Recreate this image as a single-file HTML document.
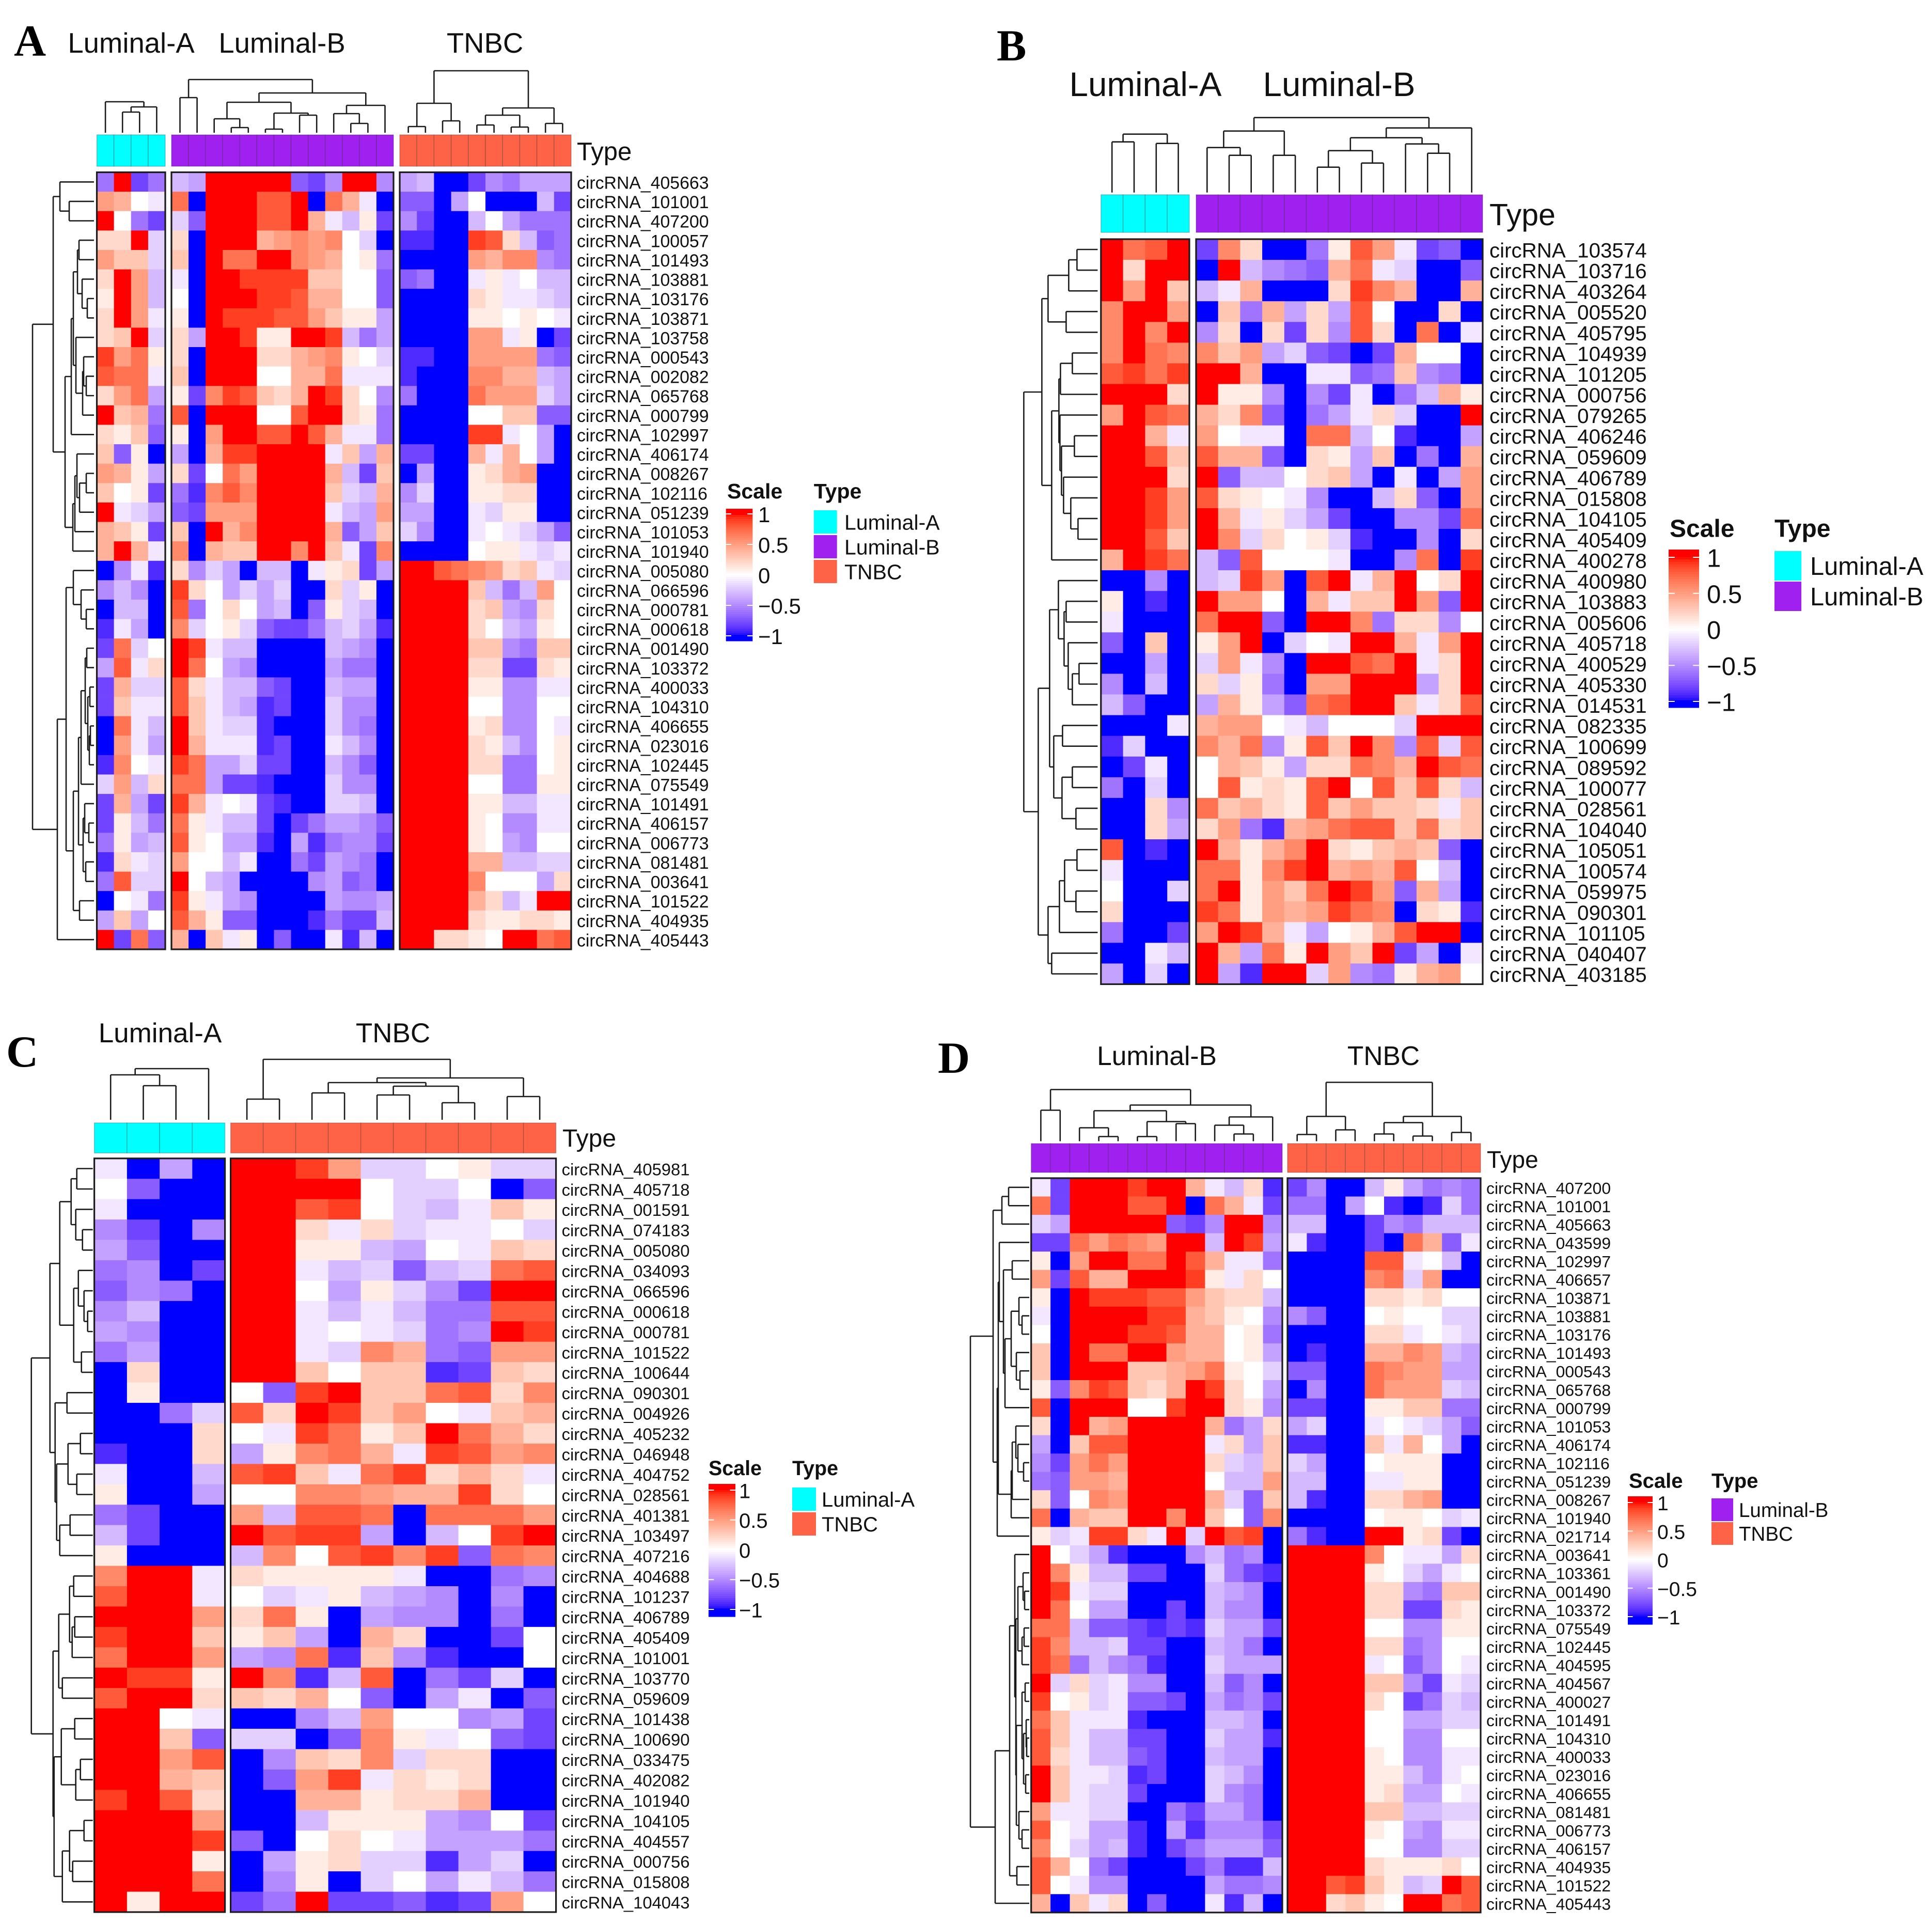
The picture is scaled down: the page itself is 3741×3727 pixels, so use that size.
<!DOCTYPE html>
<html lang="en">
<head>
<meta charset="utf-8">
<title>circRNA expression heatmaps</title>
<style>
html,body{margin:0;padding:0;background:#fff;}
svg{display:block;}
text{font-family:"Liberation Sans",Arial,sans-serif;fill:#111;}
.letter{font-family:"Liberation Serif","Times New Roman",serif;font-weight:bold;fill:#000;}
</style>
</head>
<body>
<svg id="figure" xmlns="http://www.w3.org/2000/svg" width="3741" height="3727" viewBox="0 0 3741 3727">
<rect width="3741" height="3727" fill="#fff"/>
<text class="letter" x="27" y="108" font-size="86">A</text>
<text class="letter" x="1930" y="117" font-size="86">B</text>
<text class="letter" x="12" y="2065" font-size="86">C</text>
<text class="letter" x="1816" y="2077" font-size="86">D</text>
</svg>
<script>
// ---------- legend data ----------
const scaleTickValues = [1, 0.5, 0, -0.5, -1];
const scaleTickLabels = ["1", "0.5", "0", "\u22120.5", "\u22121"];
const typeColors = {"Luminal-A":"#00FFFF","Luminal-B":"#A020F0","TNBC":"#FF6347"};

// ---------- Panel A data (values in tenths of scale, -10..10) ----------
const panelAGroups = ["Luminal-A","Luminal-B","TNBC"];
const panelAColumnCounts = [4,13,10];
const panelALabels = ["circRNA_405663","circRNA_101001","circRNA_407200","circRNA_100057","circRNA_101493","circRNA_103881","circRNA_103176","circRNA_103871","circRNA_103758","circRNA_000543","circRNA_002082","circRNA_065768","circRNA_000799","circRNA_102997","circRNA_406174","circRNA_008267","circRNA_102116","circRNA_051239","circRNA_101053","circRNA_101940","circRNA_005080","circRNA_066596","circRNA_000781","circRNA_000618","circRNA_001490","circRNA_103372","circRNA_400033","circRNA_104310","circRNA_406655","circRNA_023016","circRNA_102445","circRNA_075549","circRNA_101491","circRNA_406157","circRNA_006773","circRNA_081481","circRNA_003641","circRNA_101522","circRNA_404935","circRNA_405443"];
const panelAValues = [
[-6,10,-8,-6, -3,-4,10,10,10,10,10,-7,-8,-5,10,10,-5, -4,-3,-10,-10,-8,-5,-6,-4,-4,-4],
[5,4,0,-1, 7,-10,10,10,10,8,8,10,-10,7,4,-1,-10, -7,-7,-10,-4,0,-10,-10,-10,-3,-8],
[10,0,-6,-8, -2,-7,10,10,10,8,8,10,4,-1,-3,1,-8, -5,-8,-10,-10,-3,0,-4,-6,-6,-6],
[2,2,10,-2, 2,-10,10,10,10,4,5,6,5,6,0,-2,-10, -9,-9,-10,-10,9,8,2,-3,-7,-6],
[5,3,3,-2, 3,-10,10,7,7,10,10,6,5,4,0,1,-6, -10,-10,-10,-10,5,4,6,6,-5,-6],
[2,10,5,-3, -1,-10,10,10,9,9,9,9,3,3,0,0,-7, -7,-6,-10,-10,-1,1,-1,0,-3,-3],
[1,10,5,-3, 0,-10,10,10,10,9,9,8,4,4,0,0,-7, -10,-10,-10,-10,2,1,-1,-1,-2,-3],
[2,10,5,-1, 1,-10,10,9,9,9,8,8,5,3,1,1,-4, -10,-10,-10,-10,1,1,0,1,0,-1],
[2,3,10,-2, 2,-4,10,10,9,1,1,10,10,9,-3,-6,-4, -10,-10,-10,-10,5,5,-1,1,-10,-8],
[9,5,7,1, 2,-10,10,10,10,2,2,4,5,6,1,0,-2, -9,-9,-10,-10,5,5,5,5,-6,-7],
[8,7,7,-1, 3,-10,10,10,10,0,0,4,4,7,-1,-1,-1, -9,-10,-10,-10,6,6,4,4,-3,-4],
[2,5,7,-4, 1,-8,6,9,8,3,2,4,10,9,2,0,-5, -6,-10,-10,-10,7,5,5,5,-2,-4],
[10,3,4,-6, 8,-10,10,10,10,0,0,8,10,10,2,1,-6, -10,-10,-10,-10,0,0,3,3,-7,-7],
[2,1,3,-7, 1,-10,5,10,10,8,8,10,8,4,-1,-1,-6, -10,-10,-10,-10,9,9,-1,0,-4,-10],
[3,-7,1,-10, -4,-10,4,9,9,10,10,10,10,-1,3,-4,4, -8,-8,-10,-10,4,-1,4,0,-4,-10],
[5,4,1,-4, 2,-8,0,7,5,10,10,10,10,4,-3,-8,3, -10,-4,-10,-10,1,2,4,5,-10,-10],
[3,0,1,-8, -6,-9,6,8,6,10,10,10,10,3,-2,-3,4, -5,-2,-10,-10,1,1,2,2,-10,-10],
[10,-1,-2,-4, -7,-8,5,5,5,10,10,10,10,-1,-3,-4,5, -4,-4,-10,-10,-1,-2,1,1,-10,-10],
[4,3,1,-8, 3,-10,10,4,6,10,10,10,10,4,-7,-4,3, -2,-5,-10,-10,-1,0,-1,-2,-4,-7],
[4,10,4,-1, 6,-10,4,3,3,10,10,6,10,3,-1,-8,6, -10,-10,-10,-10,0,1,1,-1,-2,-1],
[-10,-5,-1,-9, 2,-5,-2,-4,-10,-3,-3,-10,-1,1,2,-8,-4, 10,10,8,7,6,5,2,3,-1,-2],
[-5,-3,-5,-10, 9,2,0,-4,-2,-4,-2,-10,-10,2,-2,1,-10, 10,10,10,10,3,-3,-6,-3,5,0],
[-10,-3,-3,-10, 8,-6,0,2,0,-4,-3,-10,-7,1,-2,-3,-10, 10,10,10,10,2,3,-4,-5,2,0],
[-9,-1,-4,-10, 6,-2,0,1,-2,-7,-8,-8,-6,-3,-2,-4,-9, 10,10,10,10,2,0,-3,-4,1,0],
[-8,7,-2,0, 10,9,-1,-3,-3,-10,-10,-10,-10,-3,-4,-5,-10, 10,10,10,10,3,3,-5,-6,3,3],
[-4,8,-1,2, 10,7,0,-4,-5,-10,-10,-10,-10,-4,-6,-6,-10, 10,10,10,10,2,2,-8,-8,2,1],
[-8,4,-2,-2, 8,2,-1,-3,-3,-7,-8,-10,-10,-3,-4,-4,-10, 10,10,10,10,1,1,-5,-5,-1,-1],
[-8,3,-1,-1, 8,3,-1,-3,-4,-9,-8,-10,-10,-2,-5,-5,-10, 10,10,10,10,0,0,-5,-5,0,0],
[-10,7,-1,-3, 10,3,-1,-2,-2,-9,-10,-10,-10,-2,-5,-6,-10, 10,10,10,10,1,2,-5,-5,0,-1],
[-10,5,-1,-4, 10,4,-1,-1,-1,-9,-8,-10,-10,-1,-3,-5,-10, 10,10,10,10,2,1,-3,-5,0,1],
[-9,6,0,-1, 9,7,-4,-4,-2,-8,-8,-10,-10,-3,-5,-7,-10, 10,10,10,10,2,2,-6,-6,0,1],
[-2,5,-3,2, 7,7,-4,-8,-8,-9,-10,-10,-10,-2,-5,-5,-10, 10,10,10,10,0,0,-6,-6,1,1],
[-8,4,-4,-8, 9,4,-1,0,-1,-8,-9,-10,-10,-2,-2,-3,-10, 10,10,10,10,1,1,-3,-3,-1,-1],
[-8,1,-3,-6, 7,1,-1,-3,-3,-8,-10,-8,-6,-4,-4,-5,-7, 10,10,10,10,1,0,-5,-5,-1,-1],
[-6,1,-4,-3, 8,1,0,-4,-4,-9,-10,-4,-9,-6,-5,-5,-8, 10,10,10,10,1,0,-4,-5,0,0],
[-9,2,-1,-2, 5,0,0,-3,-1,-10,-10,-6,-8,-4,-5,-6,-10, 10,10,10,10,4,4,-3,-3,-2,-2],
[-6,8,-2,-2, 10,0,-3,-4,-10,-10,-10,-10,-5,-4,-7,-6,-10, 10,10,10,10,6,0,0,0,-4,2],
[-10,0,-1,-6, 9,1,-1,-4,-5,-10,-10,-10,-10,-4,-5,-5,-4, 10,10,10,10,4,2,-3,-1,10,10],
[-4,3,-4,0, 8,4,1,-7,-7,-10,-10,-10,-9,-6,-8,-8,-3, 10,10,10,10,2,1,1,2,2,1],
[10,-8,7,-7, 4,-10,3,-1,1,-10,-7,-10,-10,-1,-9,-3,-10, 10,10,2,2,1,0,10,10,7,8]
];
// dendrogram merge heights: [height, left, right], 0 = leaf
const panelAColumnTrees = [
 [60,0,[50,[40,0,0],0]],
 [103,[68,0,0],[77,[59,[27,0,[10,0,0]],[38,[7,0,0],[34,0,0]]],[53,[37,0,[18,0,0]],0]]],
 [120,[57,[12,0,0],[23,0,0]],[48,[34,[15,0,0],[11,0,0]],[18,0,0]]]
];
const panelARowTree = [119,
 [79,[66,0,[48,0,0]],
  [56,[44,[40,[32,[29,0,0],[23,0,[13,0,0]]],[35,0,[22,[20,0,[15,0,0]],0]]],0],
      [41,[37,[33,0,[28,[15,0,0],0]],0],0]]],
 [71,[54,[40,0,[25,0,[15,0,0]]],
      [40,[30,[25,[17,[14,0,0],[12,[8,0,0],[9,[7,0,0],0]]],0],[21,[18,0,[10,0,0]],[16,0,0]]],[28,0,0]]],0]];

// ---------- Panel B data ----------
const panelBGroups = ["Luminal-A","Luminal-B"];
const panelBColumnCounts = [4,13];
const panelBLabels = ["circRNA_103574","circRNA_103716","circRNA_403264","circRNA_005520","circRNA_405795","circRNA_104939","circRNA_101205","circRNA_000756","circRNA_079265","circRNA_406246","circRNA_059609","circRNA_406789","circRNA_015808","circRNA_104105","circRNA_405409","circRNA_400278","circRNA_400980","circRNA_103883","circRNA_005606","circRNA_405718","circRNA_400529","circRNA_405330","circRNA_014531","circRNA_082335","circRNA_100699","circRNA_089592","circRNA_100077","circRNA_028561","circRNA_104040","circRNA_105051","circRNA_100574","circRNA_059975","circRNA_090301","circRNA_101105","circRNA_040407","circRNA_403185"];
const panelBValues = [
[10,7,8,10, -8,6,2,-10,-10,-6,1,8,5,-1,-8,-7,-10],
[10,2,10,10, -10,10,-3,-5,-6,-7,4,7,-1,-2,-10,-10,-7],
[10,5,10,3, -3,-1,4,-10,-10,-10,2,9,6,4,-10,-10,4],
[6,10,10,5, -10,3,-6,4,-4,2,-4,8,0,-10,-10,2,-10],
[6,10,6,10, -5,2,-10,2,-8,2,-5,8,2,-10,7,-10,-1],
[6,10,7,6, 6,3,5,-4,-2,-7,-8,-10,-8,4,0,0,-10],
[8,9,7,9, 10,10,4,-10,-10,-1,-1,-7,-6,3,-5,-6,-10],
[10,10,10,2, 10,1,1,-5,-10,-5,-8,-1,-10,-6,-3,4,1],
[5,10,8,7, 4,2,6,-7,-10,-6,-4,-1,2,-2,-10,-10,10],
[10,10,4,-1, 5,0,-1,-1,-10,7,7,-3,0,-9,-10,-10,-4],
[10,10,8,3, 8,4,4,-7,-10,2,1,-4,3,-10,-6,-10,4],
[10,10,10,2, 10,-7,-3,-3,0,2,3,-4,-10,-1,-10,-4,5],
[10,10,9,5, 8,2,1,0,-1,-5,-10,-10,-3,2,-7,-10,5],
[10,10,9,5, 10,4,-1,1,-2,-4,-8,-10,-10,-5,-5,-8,7],
[10,10,8,3, 10,6,-2,2,0,1,-2,-9,-10,-10,-5,-10,2],
[4,10,9,7, -3,-7,8,0,0,0,-1,-10,-10,-5,7,-10,9],
[-10,-10,-5,-10, -3,-2,9,5,-10,8,10,-1,4,10,0,2,10],
[1,-10,-9,-10, 10,5,5,0,-10,4,-1,3,3,10,5,-7,10],
[-1,-10,-10,-10, 7,10,10,-7,-10,10,10,6,-6,2,2,-5,0],
[-7,-10,3,-10, 1,5,10,-10,-2,0,-1,10,10,4,-1,5,10],
[-10,-10,-4,-10, -2,5,-1,-5,-10,10,10,8,7,10,-1,2,10],
[-5,-10,-3,-10, 2,-2,1,-6,-10,5,5,10,10,10,-4,2,10],
[-3,-7,-10,-10, -4,4,1,-4,-7,7,8,10,10,3,-1,2,8],
[-10,-10,-10,-1, 4,5,5,0,-1,-3,0,0,0,-2,10,10,10],
[-9,-2,-10,-10, 6,4,7,-5,1,8,3,10,6,-5,8,-2,8],
[-10,-8,-1,-10, 0,4,3,1,-4,2,2,7,6,4,10,8,7],
[-6,-10,-2,-10, 0,8,1,2,1,8,10,0,8,3,8,2,-3],
[-10,-10,2,-5, 7,3,4,2,1,8,3,5,3,3,2,-1,3],
[-10,-10,2,-4, 2,5,-6,-9,4,5,7,8,8,3,7,2,3],
[8,-10,-9,-10, 10,4,1,4,6,10,2,1,3,4,3,-7,-10],
[-1,-10,-10,-10, 7,7,1,6,9,10,4,5,4,8,0,-3,-10],
[0,-10,-10,-2, 7,10,1,5,3,7,10,9,5,-7,4,-4,-10],
[2,-10,-10,-10, 9,7,1,5,4,5,9,7,6,-10,2,1,-9],
[-6,-10,-10,-8, 5,10,9,4,-1,-4,0,1,4,8,10,10,-10],
[-10,-10,-1,-3, 10,4,-4,7,1,10,5,3,10,-8,-4,-10,-1],
[-4,-10,-2,-10, 10,-4,-9,10,10,-2,5,-5,-6,1,4,5,0]
];
const panelBColumnTrees = [
 [113,[98,0,0],[95,0,0]],
 [145,[119,[87,0,[72,0,0]],[72,0,0]],[125,[106,[81,[49,0,0],[57,0,0]],[94,0,[76,0,0]]],0]]
];
const panelBRowTree = [143,
 [108,[96,[56,[40,0,0],0],[61,0,0]],
  [89,[75,[72,[49,0,0],0],[73,0,[70,[45,0,0],[66,0,[52,0,[38,0,0]]]]]],0]],
 [115,[93,[76,0,[65,[61,0,0],[57,0,[49,[36,0,0],0]]]],[85,[68,0,0],[69,[49,0,0],[42,0,0]]]],
  [96,[74,[64,[40,0,0],[42,0,0]],0],[89,0,0]]]];

// ---------- Panel C data ----------
const panelCGroups = ["Luminal-A","TNBC"];
const panelCColumnCounts = [4,10];
const panelCLabels = ["circRNA_405981","circRNA_405718","circRNA_001591","circRNA_074183","circRNA_005080","circRNA_034093","circRNA_066596","circRNA_000618","circRNA_000781","circRNA_101522","circRNA_100644","circRNA_090301","circRNA_004926","circRNA_405232","circRNA_046948","circRNA_404752","circRNA_028561","circRNA_401381","circRNA_103497","circRNA_407216","circRNA_404688","circRNA_101237","circRNA_406789","circRNA_405409","circRNA_101001","circRNA_103770","circRNA_059609","circRNA_101438","circRNA_100690","circRNA_033475","circRNA_402082","circRNA_101940","circRNA_104105","circRNA_404557","circRNA_000756","circRNA_015808","circRNA_104043"];
const panelCValues = [
[-1,-10,-4,-10, 10,10,9,5,-2,-2,0,1,-2,-2],
[0,-7,-10,-10, 10,10,10,10,0,-2,-2,0,-10,-7],
[-1,-10,-10,-10, 10,10,8,9,0,-2,-3,-1,3,1],
[-5,-8,-10,-5, 10,10,2,-1,2,-2,-1,-1,0,-2],
[-4,-7,-10,-10, 10,10,1,1,-3,-4,0,-1,3,2],
[-6,-5,-10,-8, 10,10,-1,-3,-2,-7,-3,-2,7,8],
[-7,-5,-6,-10, 10,10,0,-4,1,-2,-5,-8,10,10],
[-5,-3,-10,-10, 10,10,-1,-3,-1,-3,-6,-6,8,8],
[-4,-5,-10,-10, 10,10,-1,0,-1,-2,-6,-5,10,9],
[-6,-4,-10,-10, 10,10,-1,-2,6,4,-6,-7,5,5],
[-10,2,-10,-10, 10,10,3,0,3,3,-9,-8,3,2],
[-10,1,-10,-10, 0,-7,9,10,3,3,7,8,2,6],
[-10,-10,-6,-2, 8,2,10,9,3,5,0,-1,3,4],
[-10,-10,-10,2, 0,-1,9,7,1,3,10,7,4,2],
[-9,-10,-10,2, -4,1,6,7,4,-1,9,8,5,6],
[-1,-10,-10,-3, 8,9,3,-1,7,9,2,4,2,-1],
[1,-10,-10,-4, 0,0,6,6,5,4,4,9,2,0],
[-6,-8,-10,-10, 5,-3,8,8,7,-10,7,7,7,5],
[-3,-8,-10,-10, 10,8,9,9,-4,-10,-3,0,9,10],
[1,-10,-10,-10, -3,6,0,8,9,6,9,-7,7,6],
[6,10,10,-1, 2,1,1,1,1,-1,-10,-10,-6,-5],
[8,10,10,-1, 0,-2,-1,1,-3,-4,-5,-10,-5,-10],
[10,10,10,5, 2,7,1,-10,-4,-5,-5,-10,-6,-10],
[9,10,10,3, 1,3,-4,-10,4,2,-10,-10,-8,0],
[7,10,10,5, -4,-5,7,-9,3,-5,-9,-10,-10,0],
[10,9,9,1, 10,6,-9,-3,8,-10,-6,-8,-2,-10],
[8,10,10,2, 3,2,4,0,-7,-10,-4,-1,-10,-7],
[10,10,0,-1, -10,-10,-5,-3,5,0,0,-5,-4,-8],
[10,10,3,-7, -2,-2,-10,-7,6,1,-1,0,-7,-8],
[10,10,5,8, -10,-5,3,2,6,-2,2,2,-10,-10],
[10,10,4,3, -10,-7,5,9,-1,2,1,2,-10,-10],
[9,10,8,2, -10,-10,4,4,1,2,2,4,-10,-10],
[10,10,10,5, -10,-10,-3,1,1,1,-4,-5,0,-8],
[10,10,10,9, -7,-10,0,2,0,-1,-4,-4,-4,-6],
[10,10,10,1, -10,-4,1,2,-2,-2,-9,-4,-2,-10],
[10,10,10,7, -10,-5,1,-10,-2,0,-4,-1,-3,-6],
[10,1,10,10, -8,-6,10,-8,-8,-7,-9,-8,5,0]
];
const panelCColumnTrees = [
 [99,[87,0,[66,0,0]],0],
 [117,[40,0,0],[81,[72,[52,0,0],[65,[48,0,0],[33,0,0]]],[45,0,0]]]
];
const panelCRowTree = [119,
 [83,[64,[42,[31,0,0],[33,0,[20,0,0]]],[37,[28,0,[17,0,[10,0,0]]],[22,0,0]]],
  [73,[50,0,0],[70,[48,[24,0,0],[31,0,0]],[64,[44,0,0],0]]]],
 [77,[66,[45,[37,0,0],[40,[35,0,0],0]],[59,0,0]],
  [75,[61,[35,0,0],[33,[24,0,0],0]],[59,[45,[17,0,0],[39,0,0]],0]]]];

// ---------- Panel D data ----------
const panelDGroups = ["Luminal-B","TNBC"];
const panelDColumnCounts = [13,10];
const panelDLabels = ["circRNA_407200","circRNA_101001","circRNA_405663","circRNA_043599","circRNA_102997","circRNA_406657","circRNA_103871","circRNA_103881","circRNA_103176","circRNA_101493","circRNA_000543","circRNA_065768","circRNA_000799","circRNA_101053","circRNA_406174","circRNA_102116","circRNA_051239","circRNA_008267","circRNA_101940","circRNA_021714","circRNA_003641","circRNA_103361","circRNA_001490","circRNA_103372","circRNA_075549","circRNA_102445","circRNA_404595","circRNA_404567","circRNA_400027","circRNA_101491","circRNA_104310","circRNA_400033","circRNA_023016","circRNA_406655","circRNA_081481","circRNA_006773","circRNA_406157","circRNA_404935","circRNA_101522","circRNA_405443"];
const panelDValues = [
[-1,-8,10,10,10,9,10,10,4,-1,-3,2,-9, -8,-5,-10,-10,-3,1,-4,-6,-5,-6],
[7,-8,10,10,10,8,8,10,-10,7,4,-1,-8, -6,-6,-10,-4,0,-9,-10,-9,-2,-6],
[-2,-4,10,10,10,10,10,-7,-8,-5,10,10,-5, -3,-3,-10,-10,-8,-5,-6,-3,-3,-3],
[-8,-8,7,5,7,6,5,10,10,-3,10,9,-4, -1,-9,-10,-10,-8,-10,7,4,-7,-1],
[1,-10,5,10,10,7,7,10,8,4,-1,-1,-6, -10,-10,-10,-10,8,8,-1,0,-3,-10],
[5,-8,8,4,4,10,10,10,9,1,-1,2,0, -10,-10,-10,-10,6,7,-2,5,-10,-10],
[1,-10,10,9,9,9,8,8,5,3,2,2,-3, -10,-10,-10,-10,2,2,1,2,0,0],
[-1,-10,10,10,10,10,9,9,4,3,1,0,-5, -5,-7,-10,-10,0,1,0,0,-2,-2],
[0,-10,10,10,10,9,9,8,4,4,0,1,-6, -10,-10,-10,-10,2,2,-1,0,-1,-2],
[3,-10,10,7,7,10,10,5,4,4,0,1,-4, -10,-9,-10,-10,4,4,6,5,-3,-4],
[3,-10,10,10,10,3,3,4,5,7,1,0,-2, -7,-7,-10,-10,7,6,5,5,-4,-4],
[1,-7,6,9,8,3,2,4,10,9,2,0,-4, -10,-5,-10,-10,7,5,5,5,-2,-3],
[8,-10,10,10,10,0,0,9,10,10,2,1,-5, -8,-8,-10,-10,1,1,3,3,-6,-6],
[2,-10,10,4,5,10,10,10,10,4,-6,-4,2, -4,-2,-10,-10,-1,0,-1,-2,-4,-7],
[-4,-10,3,8,8,10,10,10,10,-1,2,-4,3, -9,-9,-10,-10,3,-1,4,0,-4,-10],
[-5,-8,5,7,5,10,10,10,10,2,-2,-3,3, -2,-4,-10,-10,0,1,1,1,-10,-10],
[-6,-7,5,5,4,10,10,10,10,0,-3,-3,5, -3,-3,-10,-10,-1,-1,1,1,-10,-10],
[2,-7,0,6,5,10,10,10,10,4,-2,-7,3, -3,-9,-10,-10,2,2,4,5,-10,-10],
[7,-10,4,3,3,10,10,6,10,3,0,-7,6, -10,-10,-10,-10,0,1,1,0,-2,-1],
[1,-2,-1,9,9,2,-1,10,-2,10,8,9,-10, -6,-9,-10,-10,10,10,1,2,-8,-10],
[10,0,-2,-4,-9,-10,-10,-10,-5,-3,-6,-5,-10, 10,10,10,10,6,0,-1,-1,-4,2],
[10,6,1,-3,-3,-8,-8,-10,-10,-2,-6,-8,-9, 10,10,10,10,1,0,-2,-4,-1,0],
[10,9,-1,-2,-2,-10,-10,-10,-10,-3,-4,-5,-10, 10,10,10,10,2,2,-5,-6,3,3],
[10,7,0,-4,-4,-10,-10,-8,-10,-3,-5,-5,-10, 10,10,10,10,2,2,-8,-8,2,1],
[7,7,-3,-7,-7,-8,-9,-8,-9,-2,-4,-4,-8, 10,10,10,10,0,0,-5,-5,1,1],
[9,6,-3,-3,-2,-8,-8,-10,-10,-3,-4,-6,-10, 10,10,10,10,2,2,-6,-5,0,0],
[9,7,-6,-3,-5,-6,-9,-10,-10,-2,-4,-4,-4, 10,10,10,10,-1,0,-7,-5,0,-1],
[10,-2,2,-2,-1,-5,-5,-10,-10,-3,-7,-5,-10, 10,10,10,10,3,3,-5,-8,-1,-2],
[9,0,1,-2,-1,-7,-7,-8,-10,-4,-6,-5,-8, 10,10,10,10,2,0,-8,-6,-2,-3],
[7,3,-1,-1,-1,-9,-10,-10,-10,-3,-3,-4,-10, 10,10,10,10,0,0,-4,-4,-2,-2],
[8,3,-1,-3,-3,-8,-8,-10,-10,-2,-4,-4,-9, 10,10,10,10,0,0,-5,-5,0,0],
[8,2,-1,-3,-3,-7,-8,-10,-10,-3,-4,-4,-10, 10,10,10,10,1,0,-5,-5,-1,-1],
[10,3,-1,-1,-2,-9,-8,-10,-10,-2,-3,-5,-10, 10,10,10,10,1,1,-3,-5,-1,0],
[10,3,-1,-2,-2,-8,-10,-10,-10,-2,-5,-6,-10, 10,10,10,10,1,2,-4,-4,0,-1],
[5,-1,-1,-2,-2,-10,-10,-6,-8,-4,-4,-6,-10, 10,10,10,10,3,3,-3,-3,-2,-2],
[8,0,-1,-4,-4,-9,-10,-4,-9,-5,-5,-5,-8, 10,10,10,10,1,0,-4,-5,-1,-1],
[6,0,-2,-4,-3,-9,-10,-8,-6,-4,-4,-4,-7, 10,10,10,10,0,0,-5,-5,-2,-2],
[8,4,0,-6,-8,-10,-10,-10,-8,-6,-9,-9,-3, 10,10,10,10,2,1,1,1,2,0],
[8,0,-1,-5,-5,-10,-10,-10,-10,-4,-6,-6,-5, 10,10,8,9,3,1,-3,-2,10,8],
[4,-10,3,-1,2,-10,-7,-10,-10,-1,-9,-3,-10, 10,10,2,3,1,0,10,10,7,8]
];
const panelDColumnTrees = [
 [100,[60,0,0],[70,[59,[26,0,[9,0,0]],[38,[9,0,0],[34,0,0]]],[47,[31,0,[14,0,0]],0]]],
 [114,[48,[13,0,0],[22,0,0]],[48,[36,[14,0,0],[10,0,0]],[17,0,0]]]
];
const panelDRowTree = [114,
 [70,[53,[40,0,0],0],
  [62,[60,[58,0,[50,[33,0,0],[47,[35,[20,0,[14,0,0]],[25,0,[18,0,0]]],0]]],[35,[33,[26,0,[22,0,[11,0,0]]],0],0]],0]],
 [66,[38,[28,0,[26,[22,[12,0,[9,0,0]],[14,[10,0,0],0]],[25,[14,[8,0,0],[11,[6,0,[5,0,0]],[7,0,0]]],[20,0,[14,0,0]]]]],[24,0,0]],0]];

// ---------- colour scale: LAB interpolation blue-white-red ----------
function labToRgb(L,a,b){
  const fy=(L+16)/116, fx=fy+a/500, fz=fy-b/200;
  const g=t=>t>0.20689?t*t*t:(t-16/116)/7.787;
  const X=0.95047*g(fx),Y=g(fy),Z=1.08883*g(fz);
  const r= 3.2406*X-1.5372*Y-0.4986*Z;
  const gn=-0.9689*X+1.8758*Y+0.0415*Z;
  const bl= 0.0557*X-0.2040*Y+1.0570*Z;
  const c=v=>{v=Math.max(0,Math.min(1,v));v=v<=0.0031308?12.92*v:1.055*Math.pow(v,1/2.4)-0.055;return Math.round(v*255);};
  return "rgb("+c(r)+","+c(gn)+","+c(bl)+")";
}
function heatColor(v){
  const t=Math.max(-1,Math.min(1,v));
  const end=t>=0?[53.24,80.09,67.2]:[32.3,79.19,-107.86];
  const k=Math.abs(t);
  return labToRgb(100+(end[0]-100)*k,end[1]*k,end[2]*k);
}

const SVGNS="http://www.w3.org/2000/svg";
const svg=document.getElementById("figure");
function make(tag,attrs,parent){
  const el=document.createElementNS(SVGNS,tag);
  for(const k in attrs) el.setAttribute(k,attrs[k]);
  (parent||svg).appendChild(el);
  return el;
}

// dendrogram path builder: tree nodes are [height,left,right], leaf=0
function dendroPath(tree,leafPos,heightToCoord,vertical){
  let idx=0, d="";
  const seg=(p1,h1,p2,h2)=>{
    const a=vertical?[p1,heightToCoord(h1)]:[heightToCoord(h1),p1];
    const b=vertical?[p2,heightToCoord(h2)]:[heightToCoord(h2),p2];
    d+="M"+a[0].toFixed(1)+" "+a[1].toFixed(1)+"L"+b[0].toFixed(1)+" "+b[1].toFixed(1);
  };
  function walk(n){
    if(!Array.isArray(n)) return {p:leafPos(idx++),h:0};
    const l=walk(n[1]), r=walk(n[2]);
    seg(l.p,l.h,l.p,n[0]); seg(r.p,r.h,r.p,n[0]); seg(l.p,n[0],r.p,n[0]);
    return {p:(l.p+r.p)/2,h:n[0]};
  }
  walk(tree);
  return d;
}

function buildPanel(c){
  const g=make("g",{});
  
  
  const nRows=c.values.length;
  const rowH=(c.bottom-c.top)/nRows;
  const rowY=i=>c.top+i*rowH;
  let colOffset=0;
  c.blocks.forEach((b,bi)=>{
    const n=c.counts[bi];
    const cw=(b.x1-b.x0)/n;
    const colX=i=>b.x0+i*cw;
    const groupName=c.groups[bi];
    // column dendrogram
    const cd=make("path",{d:dendroPath(c.colTrees[bi],i=>colX(i)+cw/2,h=>c.colBase-h,true),fill:"none",stroke:"#1a1a1a","stroke-width":2.6},g);
    
    
    // annotation bar
    for(let i=0;i<n;i++){
      const a=make("rect",{x:colX(i),y:c.annTop,width:cw,height:c.annBottom-c.annTop,fill:typeColors[groupName],stroke:"rgba(40,40,40,0.3)","stroke-width":1.4},g);
      
      
    }
    // cells
    for(let r=0;r<nRows;r++){
      for(let i=0;i<n;i++){
        const v=c.values[r][colOffset+i]/10;
        const cell=make("rect",{x:colX(i).toFixed(2),y:rowY(r).toFixed(2),width:(cw+0.4).toFixed(2),height:(rowH+0.4).toFixed(2),fill:heatColor(v)},g);
        
        
      }
    }
    const frame=make("rect",{x:b.x0,y:c.top,width:b.x1-b.x0,height:c.bottom-c.top,fill:"none",stroke:"#1c1c1c","stroke-width":3.2},g);
    
    
    // group title
    const title=make("text",{x:c.titleX[bi],y:c.titleY,"font-size":c.titleSize,"text-anchor":"middle"},g);
    title.textContent=groupName;
    
    
    colOffset+=n;
  });
  // row dendrogram
  const rd=make("path",{d:dendroPath(c.rowTree,i=>rowY(i)+rowH/2,h=>c.rowBase-h,false),fill:"none",stroke:"#1a1a1a","stroke-width":2.6},g);
  
  
  // row labels
  c.labels.forEach((t,i)=>{
    const el=make("text",{x:c.labelX,y:(rowY(i)+rowH/2+1).toFixed(1),dy:"0.36em","font-size":c.labelSize,fill:"#222"},g);
    el.textContent=t;
    
    
  });
  // Type annotation label
  const ty=make("text",{x:c.typeX,y:c.typeY,"font-size":c.typeSize},g);
  ty.textContent="Type";
  
  
  // colour legend
  const L=c.legend;
  const st=make("text",{x:L.scaleX,y:L.scaleY,dy:"0.36em","font-size":L.titleSize,"font-weight":"bold"},g);
  st.textContent="Scale";
  
  
  const legendY=v=>L.y1+(1-v)/2*(L.ym1-L.y1);
  const top=L.barTop, bot=L.barBottom, steps=64;
  for(let i=0;i<steps;i++){
    const y0=top+(bot-top)*i/steps;
    const val=1-(y0+(bot-top)/steps/2-L.y1)/(L.ym1-L.y1)*2;
    const s=make("rect",{x:L.barX0,y:y0.toFixed(2),width:L.barX1-L.barX0,height:((bot-top)/steps+0.5).toFixed(2),fill:heatColor(val)},g);
    
    
  }
  scaleTickValues.forEach((v,i)=>{
    const y=legendY(v);
    const tw=(L.barX1-L.barX0)*0.2;
    [[L.barX0,L.barX0+tw],[L.barX1-tw,L.barX1]].forEach(p=>{
      const tk=make("line",{x1:p[0],x2:p[1],y1:y,y2:y,stroke:"#fff","stroke-width":2},g);
      
      
    });
    const lb=make("text",{x:L.tickX,y:y+1,dy:"0.36em","font-size":L.tickSize},g);
    lb.textContent=scaleTickLabels[i];
    
    
  });
  const tt=make("text",{x:L.typeX,y:L.scaleY,dy:"0.36em","font-size":L.titleSize,"font-weight":"bold"},g);
  tt.textContent="Type";
  
  
  c.groups.forEach((name,i)=>{
    const y=L.swatchY+i*L.swatchStep;
    const sw=make("rect",{x:L.typeX,y:y,width:L.swatchW,height:L.swatchH,fill:typeColors[name]},g);
    
    
    const tx=make("text",{x:L.textX,y:y+L.swatchH/2,dy:"0.36em","font-size":L.textSize},g);
    tx.textContent=name;
    
    
  });
}

buildPanel({id:"a",groups:panelAGroups,counts:panelAColumnCounts,labels:panelALabels,values:panelAValues,colTrees:panelAColumnTrees,rowTree:panelARowTree,
  blocks:[{x0:187.5,x1:320},{x0:332,x1:762},{x0:774,x1:1106}],
  top:333.5,bottom:1838,annTop:261,annBottom:322,colBase:257,rowBase:182,
  titleX:[254,546,939],titleY:102,titleSize:54.5,labelX:1117,labelSize:33.8,typeX:1117,typeY:310,typeSize:49,
  legend:{scaleX:1408,scaleY:950,titleSize:41,barX0:1405.7,barX1:1457.3,barTop:985,barBottom:1241,y1:995,ym1:1231,tickX:1468,tickSize:42,typeX:1575.7,swatchY:988,swatchStep:48,swatchW:45,swatchH:45,textX:1635,textSize:41}});

buildPanel({id:"b",groups:panelBGroups,counts:panelBColumnCounts,labels:panelBLabels,values:panelBValues,colTrees:panelBColumnTrees,rowTree:panelBRowTree,
  blocks:[{x0:2131.8,x1:2303},{x0:2316,x1:2871}],
  top:463,bottom:1905.5,annTop:377,annBottom:450,colBase:372.7,rowBase:2125.4,
  titleX:[2218,2593],titleY:186,titleSize:65.5,labelX:2884,labelSize:40.3,typeX:2884,typeY:436,typeSize:59,
  legend:{scaleX:3233,scaleY:1022,titleSize:48,barX0:3231,barX1:3290,barTop:1064,barBottom:1370,y1:1079,ym1:1358,tickX:3305,tickSize:49,typeX:3436,swatchY:1067,swatchStep:59,swatchW:52,swatchH:57,textX:3505,textSize:48.7}});

buildPanel({id:"c",groups:panelCGroups,counts:panelCColumnCounts,labels:panelCLabels,values:panelCValues,colTrees:panelCColumnTrees,rowTree:panelCRowTree,
  blocks:[{x0:182.6,x1:435.6},{x0:446.6,x1:1076.6}],
  top:2242.8,bottom:3702,annTop:2174,annBottom:2232.4,colBase:2168,rowBase:179.7,
  titleX:[310,761],titleY:2018,titleSize:53,labelX:1087.6,labelSize:32.8,typeX:1089,typeY:2220,typeSize:48,
  legend:{scaleX:1372,scaleY:2842,titleSize:39.4,barX0:1372,barX1:1424,barTop:2873,barBottom:3130,y1:2885,ym1:3116,tickX:1431,tickSize:40,typeX:1534,swatchY:2880,swatchStep:48,swatchW:46,swatchH:45,textX:1591,textSize:40}});

buildPanel({id:"d",groups:panelDGroups,counts:panelDColumnCounts,labels:panelDLabels,values:panelDValues,colTrees:panelDColumnTrees,rowTree:panelDRowTree,
  blocks:[{x0:1996.7,x1:2483},{x0:2493,x1:2867}],
  top:2281,bottom:3702.8,annTop:2214,annBottom:2270,colBase:2209.5,rowBase:1993,
  titleX:[2240,2679],titleY:2062,titleSize:51.5,labelX:2878,labelSize:31.9,typeX:2879,typeY:2261,typeSize:46,
  legend:{scaleX:3154,scaleY:2866,titleSize:40,barX0:3152,barX1:3200,barTop:2897,barBottom:3145,y1:2909,ym1:3130,tickX:3209,tickSize:39,typeX:3314,swatchY:2901,swatchStep:46,swatchW:42,swatchH:44,textX:3367,textSize:38.5}});
</script>
</body>
</html>
